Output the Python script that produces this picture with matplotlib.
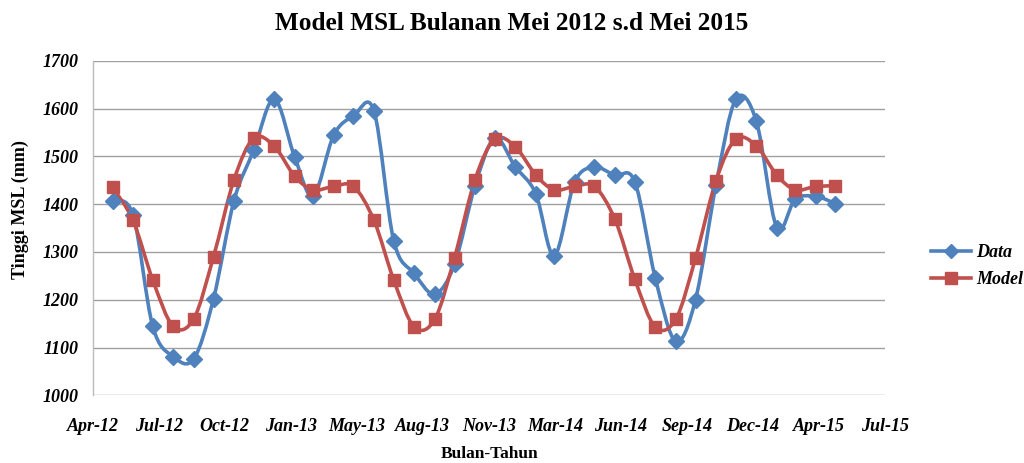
import matplotlib
matplotlib.use("Agg")
import matplotlib.pyplot as plt
import matplotlib.dates as mdates
from matplotlib.path import Path
from matplotlib.patches import PathPatch
from matplotlib.lines import Line2D
import numpy as np
import datetime as dt

# ---------------- data ----------------
months = ["2012-05", "2012-06", "2012-07", "2012-08", "2012-09", "2012-10", "2012-11", "2012-12",
          "2013-01", "2013-02", "2013-03", "2013-04", "2013-05", "2013-06", "2013-07", "2013-08",
          "2013-09", "2013-10", "2013-11", "2013-12", "2014-01", "2014-02", "2014-03", "2014-04",
          "2014-05", "2014-06", "2014-07", "2014-08", "2014-09", "2014-10", "2014-11", "2014-12",
          "2015-01", "2015-02", "2015-03", "2015-04", "2015-05"]

data_vals = [1407, 1378, 1144, 1081, 1076, 1202, 1407, 1513, 1620, 1498, 1417, 1544, 1584,
             1595, 1323, 1255, 1212, 1274, 1438, 1538, 1478, 1422, 1292, 1446, 1477, 1460,
             1447, 1246, 1113, 1200, 1440, 1619, 1574, 1351, 1410, 1416, 1401]

model_vals = [1435, 1366, 1241, 1144, 1160, 1290, 1451, 1538, 1521, 1458, 1430, 1437, 1437,
              1366, 1241, 1143, 1159, 1288, 1451, 1536, 1520, 1461, 1430, 1437, 1437, 1368,
              1243, 1143, 1159, 1287, 1449, 1536, 1522, 1461, 1430, 1437, 1438]

xtick_labels = ["Apr-12", "Jul-12", "Oct-12", "Jan-13", "May-13", "Aug-13", "Nov-13",
                "Mar-14", "Jun-14", "Sep-14", "Dec-14", "Apr-15", "Jul-15"]

title = "Model MSL Bulanan Mei 2012 s.d Mei 2015"
ylabel = "Tinggi MSL (mm)"
xlabel = "Bulan-Tahun"

# ---------------- style ----------------
BLUE = "#4F81BD"
RED = "#C0504D"
GRID = "#a0a0a0"
SERIF = ["Liberation Serif", "DejaVu Serif"]

plt.rcParams["font.family"] = SERIF

W, H = 1024, 463
fig = plt.figure(figsize=(W / 100, H / 100), dpi=100)
ax = fig.add_axes([92.7 / W, 1 - 395.3 / H, (885 - 92.7) / W, (395.3 - 60.7) / H])

xd = mdates.date2num([dt.datetime.strptime(m + "-01", "%Y-%m-%d") for m in months])
x0 = mdates.date2num(dt.datetime(2012, 4, 1))
tick_pos = x0 + 100 * np.arange(len(xtick_labels))


def smooth_path(x, y):
    pts = np.column_stack([x, y]).astype(float)
    n = len(pts)
    verts = [pts[0]]
    codes = [Path.MOVETO]
    for i in range(n - 1):
        p0 = pts[i - 1] if i > 0 else pts[i]
        p1 = pts[i]
        p2 = pts[i + 1]
        p3 = pts[i + 2] if i + 2 < n else pts[i + 1]
        c1 = p1 + (p2 - p0) / 6.0
        c2 = p2 - (p3 - p1) / 6.0
        verts += [c1, c2, p2]
        codes += [Path.CURVE4] * 3
    return Path(verts, codes)


for vals, col, mk, ms in [(data_vals, BLUE, "D", 8.0), (model_vals, RED, "s", 9.0)]:
    ax.add_patch(PathPatch(smooth_path(xd, vals), facecolor="none", edgecolor=col,
                           lw=2.6, zorder=3, capstyle="round", joinstyle="round"))
    ax.plot(xd, vals, linestyle="none", marker=mk, ms=ms, color=col, mec=col, zorder=4)

ax.set_xlim(tick_pos[0], tick_pos[-1])
ax.set_ylim(1000, 1700)
ax.set_yticks(np.arange(1000, 1701, 100))
ax.set_xticks(tick_pos)
ax.set_xticklabels(xtick_labels)

ax.yaxis.grid(True, color=GRID, lw=1.0)
ax.set_axisbelow(True)
for s in ["top", "right", "bottom"]:
    ax.spines[s].set_visible(False)
ax.spines["left"].set_color("#bcbcbc")
ax.spines["left"].set_linewidth(1.0)

ax.tick_params(axis="both", length=0)
ax.tick_params(axis="x", pad=16)
ax.tick_params(axis="y", pad=10)
for lab in ax.get_xticklabels() + ax.get_yticklabels():
    lab.set_fontsize(13)
    lab.set_fontweight("bold")
    lab.set_fontstyle("italic")

fig.text(512 / W, 1 - 24 / H, title, ha="center", va="center", fontsize=18.2, fontweight="bold")
fig.text(20 / W, 1 - 210 / H, ylabel, ha="center", va="center", rotation=90,
         fontsize=13, fontweight="bold")
fig.text(490 / W, 1 - 462 / H, xlabel, ha="center", va="bottom", fontsize=12.5, fontweight="bold")

handles = [Line2D([], [], color=BLUE, lw=2.6, marker="D", ms=7),
           Line2D([], [], color=RED, lw=2.6, marker="s", ms=8)]
leg = fig.legend(handles, ["Data", "Model"], loc="center left",
                 bbox_to_anchor=(931 / W, 1 - 266 / H), frameon=False,
                 prop={"family": SERIF, "size": 13, "weight": "bold", "style": "italic"},
                 handlelength=2.2, handletextpad=0.3, labelspacing=0.55, borderpad=0, borderaxespad=0)

fig.savefig("out.png", dpi=100)
